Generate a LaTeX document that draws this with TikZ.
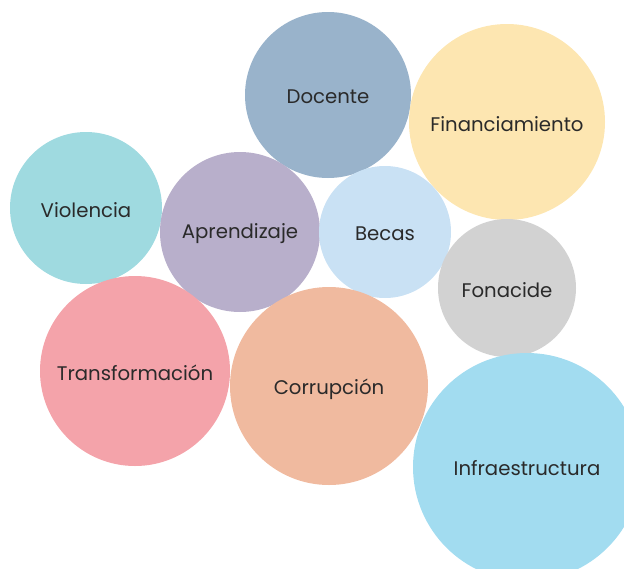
\documentclass[tikz,border=0pt]{standalone}
\usepackage{fontspec}
\setmainfont{Poppins}
\definecolor{cDoc}{HTML}{99B3CB}
\definecolor{cFin}{HTML}{FDE6B1}
\definecolor{cVio}{HTML}{9FDAE0}
\definecolor{cApr}{HTML}{B8AFCB}
\definecolor{cBec}{HTML}{C9E1F4}
\definecolor{cFon}{HTML}{D2D2D2}
\definecolor{cTra}{HTML}{F4A3AA}
\definecolor{cCor}{HTML}{F0BA9F}
\definecolor{cInf}{HTML}{A2DCF0}
\definecolor{txt}{HTML}{2A2A2A}
\tikzset{
  bubble/.style={circle, inner sep=0pt},
  lbl/.style={text=txt, font=\fontsize{19.7}{23}\selectfont, inner sep=0pt}
}
\begin{document}
\begin{tikzpicture}[x=1pt,y=-1pt]
\useasboundingbox (0,0) rectangle (624,568);
\clip (0,0) rectangle (624,568);
\node[bubble, fill=cDoc, minimum size=166pt] (doc) at (328,95) {};
\node[bubble, fill=cFin, minimum size=196pt] (fin) at (507,122) {};
\node[bubble, fill=cVio, minimum size=152pt] (vio) at (86,208) {};
\node[bubble, fill=cApr, minimum size=160pt] (apr) at (240,232) {};
\node[bubble, fill=cBec, minimum size=132pt] (bec) at (385,232) {};
\node[bubble, fill=cFon, minimum size=138pt] (fon) at (507,288) {};
\node[bubble, fill=cTra, minimum size=190pt] (tra) at (135,371) {};
\node[bubble, fill=cCor, minimum size=198pt] (cor) at (329,386) {};
\node[bubble, fill=cInf, minimum size=228pt] (inf) at (527,467) {};
\node[lbl] (tdoc) at ([yshift=-2pt]doc.center) {Docente};
\node[lbl] (tfin) at ([yshift=-2pt]fin.center) {Financiamiento};
\node[lbl] (tvio) at ([yshift=-2pt]vio.center) {Violencia};
\node[lbl] (tapr) at ([yshift=-2pt]apr.center) {Aprendizaje};
\node[lbl] (tbec) at ([yshift=-2pt]bec.center) {Becas};
\node[lbl] (tfon) at ([yshift=-2pt]fon.center) {Fonacide};
\node[lbl] (ttra) at ([yshift=-2pt]tra.center) {Transformación};
\node[lbl] (tcor) at ([yshift=-3pt]cor.center) {Corrupción};
\node[lbl] (tinf) at ([yshift=-1pt]inf.center) {Infraestructura};
\end{tikzpicture}
\end{document}
